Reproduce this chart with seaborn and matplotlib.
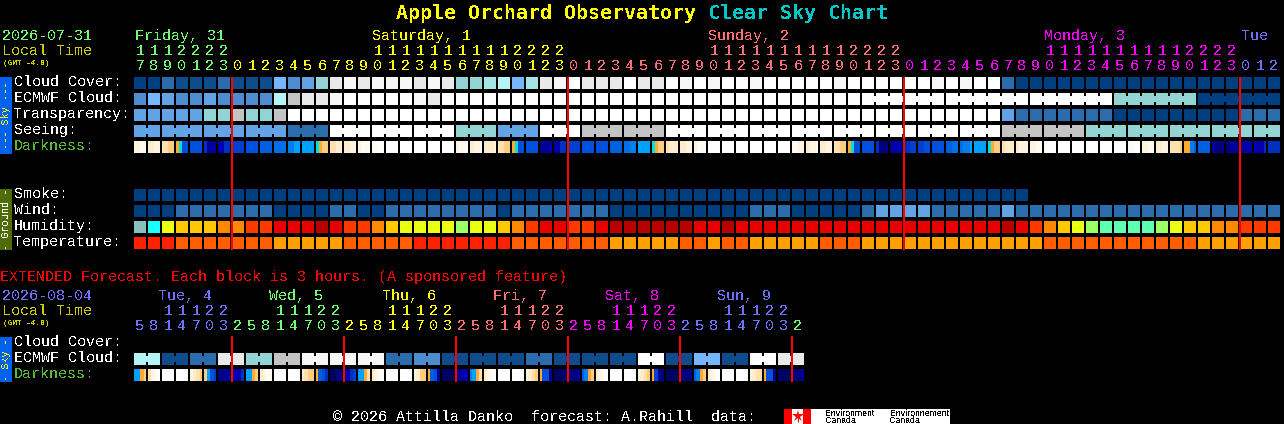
import numpy as np
import matplotlib
matplotlib.use("Agg")
import matplotlib.pyplot as plt
import seaborn as sns
from matplotlib.colors import ListedColormap
from matplotlib.patches import Rectangle

# --- data ---
hours = [17, 18, 19, 20, 21, 22, 23,
         0, 1, 2, 3, 4, 5, 6, 7, 8, 9, 10, 11, 12, 13, 14, 15, 16, 17, 18, 19, 20, 21, 22, 23,
         0, 1, 2, 3, 4, 5, 6, 7, 8, 9, 10, 11, 12, 13, 14, 15, 16, 17, 18, 19, 20, 21, 22, 23,
         0, 1, 2, 3, 4, 5, 6, 7, 8, 9, 10, 11, 12, 13, 14, 15, 16, 17, 18, 19, 20, 21, 22, 23,
         0, 1, 2]
ext_hours = [5, 8, 11, 14, 17, 20, 23,
             2, 5, 8, 11, 14, 17, 20, 23,
             2, 5, 8, 11, 14, 17, 20, 23,
             2, 5, 8, 11, 14, 17, 20, 23,
             2, 5, 8, 11, 14, 17, 20, 23,
             2, 5, 8, 11, 14, 17, 20, 23,
             2]

# day name, first column, colour
days = [("Friday, 31", 0, "#70ff70"), ("Saturday, 1", 7, "#ffff00"), ("Sunday, 2", 31, "#ff7070"),
        ("Monday, 3", 55, "#ff00ff"), ("Tue", 79, "#7070ff")]
ext_days = [("Tue, 4", 0, "#7070ff"), ("Wed, 5", 7, "#70ff70"), ("Thu, 6", 15, "#ffff00"),
            ("Fri, 7", 23, "#ff7070"), ("Sat, 8", 31, "#ff00ff"), ("Sun, 9", 39, "#7070ff")]
ext_last_colour = "#70ff70"

cloud_cover = ("AACBBBCBBB" "FDEGKLKLLL" "KLKGGHIFHK" "LMKKKMKK" + "MLMLMMLMMMMMLMMMMMMLMLMM" + "C" + "A" * 19)
ecmwf_cloud = ("DFEDDEDDDD" "IJKKLMMMMM" "LK" + "M" * 48 + "G" * 6 + "A" * 6)
transparency = ("EEEEEGGJGGJ" + "M" * 51 + "E" + "C" * 7 + "A" * 9 + "CCC")
seeing = ("E" * 11 + "CCC" + "M" * 9 + "GGG" + "EEE" + "MMM" + "J" * 6 + "M" * 24 + "J" * 6 + "G" * 14)
smoke = "A" * 64
wind = ("AAA" + "C" * 7 + "AAAA" + "CC" + "AA" + "C" * 8 + "A" + "C" * 7 + "A" * 10 + "CCC" + "A" * 5
        + "C" + "EEEE" + "C" * 5 + "E" + "C" * 19)
humidity = ("abcdddeeff" "ggghgffedc" "ccciccdefg" "gffg" "hhhhhh" "ggh" + "g" * 19
            + "hgfedcijjjjicddeefff")
temperature = ("RRR" + "O" * 7 + "Y" * 5 + "O" * 5 + "R" * 7 + "O" * 7 + "Y" * 5 + "OOYOO" + "Y" * 5 + "OOO"
               + "Y" * 13 + "O" * 11 + "Y" * 6)
ext_ecmwf = "IBCKGJLLLCDBBBCBBBMBFBMK"

# each cell holds 4 slices, level 0 = daylight, i = darkest
darkness = ["2211", "3322", "4455", "67cc", "cccc", "eggg", "ffee", "dddd", "cccc", "bbbb", "aaaa", "9988",
            "8888", "7655", "4433", "3322", "2111", "1100", "0000", "0000", "0000", "0000", "0000",
            "2110", "3221", "3332", "4455", "67cc", "cccc", "hggf", "ffee", "dddd", "cccc", "cccc",
            "bbbb", "aa99", "8888", "7655", "4333", "3322", "2111", "0000", "0000", "0000", "0000",
            "0000", "0000", "1122", "3221", "3322", "4455", "67cc",
            "cccc", "ehhh", "gfff", "eedd", "ddcc", "cccc", "bbaa", "a998", "8888", "7655", "4333",
            "3222", "2211", "1000", "0000", "0000", "0000", "0000", "0000", "1100", "2211", "3322",
            "4445", "669b", "bbbb", "ghhh", "hggg", "ggff", "fffe", "eeee"]
ext_darkness = ["8865", "4210", "0000", "0000", "2345", "58cd", "hhgg", "fffe",
                "8865", "3211", "0000", "0000", "3455", "6bce", "iihh", "gfed",
                "8864", "3210", "0000", "0000", "2355", "6bcg", "iiii", "hgff",
                "9864", "3210", "0000", "0000", "2345", "6ccg", "iiih", "hhhg",
                "b965", "3210", "0000", "0000", "2345", "6dgh", "iiii", "ihhh",
                "b965", "3210", "0000", "0000", "2344", "6cch", "iiii", "ihhg"]

cloud_colours = {"A": "#003f7f", "B": "#0f4c8c", "C": "#2b6cad", "D": "#4c8ccf", "E": "#62a3e6",
                 "F": "#76b6ff", "G": "#92d3d3", "H": "#a4e4e4", "I": "#b4f4f4", "J": "#c3c3c3",
                 "K": "#e9e9e9", "L": "#f7f7f7", "M": "#ffffff"}
humidity_colours = {"a": "#88bfbf", "b": "#18ffff", "c": "#ebff10", "d": "#ffc800", "e": "#ff8800",
                    "f": "#ff3800", "g": "#e80000", "h": "#b80000", "i": "#9cff64", "j": "#5effb0"}
temp_colours = {"R": "#ff2000", "O": "#ff5e00", "Y": "#ffa000"}
dark_colours = ["#ffffff", "#fffbf2", "#fff4e0", "#ffeccb", "#ffe0ae", "#ffcc80", "#ffaa33", "#00e0e0",
                "#00a0ff", "#0080f0", "#0070e8", "#0060e0", "#0050dd", "#0040d0", "#0030c0",
                "#0000b0", "#00009a", "#000080", "#000060"]

W, H = 1284, 424
X0, PITCH = 134, 14
MONO = "Liberation Mono"

sns.set_theme(style="dark", rc={"axes.facecolor": "black", "figure.facecolor": "black"})
plt.rcParams["font.family"] = [MONO, "DejaVu Sans Mono"]
plt.rcParams["text.antialiased"] = False

fig = plt.figure(figsize=(W / 100, H / 100), dpi=100, facecolor="black")


def px_axes(left, top, width, height):
    ax = fig.add_axes([left / W, 1 - (top + height) / H, width / W, height / H])
    ax.set_facecolor("black")
    return ax


def block_row(codes, top, palette, n_cols=82, bridges=()):
    # one row of 12px blocks, the black edges make the gaps between them
    keys = list(palette)
    values = np.full((1, n_cols), np.nan)
    values[0, :len(codes)] = [keys.index(c) for c in codes]
    ax = px_axes(X0 - 1, top - 1, n_cols * PITCH, PITCH)
    sns.heatmap(values, ax=ax, cmap=ListedColormap([palette[k] for k in keys]), vmin=-0.5,
                vmax=len(keys) - 0.5, cbar=False, linewidths=1.44, linecolor="black",
                xticklabels=False, yticklabels=False)
    # joined blocks share a narrow bridge across the gap
    for first, last in bridges:
        for i in range(first, last):
            ax.add_patch(Rectangle((i + 1 - 1 / PITCH, 4 / PITCH), 2 / PITCH, 6 / PITCH, lw=0,
                                   facecolor=palette[codes[i]], antialiased=False, zorder=5))
    ax.set_axis_off()


def dark_row(cells, top):
    values = np.array([[int(ch, 36) for cell in cells for ch in cell]], dtype=float)
    ax = px_axes(X0 - 1, top, len(cells) * PITCH, 12)
    sns.heatmap(values, ax=ax, cmap=ListedColormap(dark_colours), vmin=-0.5, vmax=len(dark_colours) - 0.5,
                cbar=False, xticklabels=False, yticklabels=False)
    ax.vlines(np.arange(len(cells) + 1) * 4, 0, 1, color="black", lw=1.44, antialiased=False)
    ax.set_axis_off()


# 3 hour seeing blocks start at column 2, the first two columns are left over
seeing_groups = [(0, 1)] + [(i, min(i + 2, 81)) for i in range(2, 82, 3)]
ecmwf_groups = [(i, i + 5) for i in range(52, 82, 6)]
ext_groups = [(i, i + 1) for i in range(0, 48, 2)]

block_row(cloud_cover, 77, cloud_colours)
block_row(ecmwf_cloud, 93, cloud_colours, bridges=ecmwf_groups)
block_row(transparency, 109, cloud_colours)
block_row(seeing, 125, cloud_colours, bridges=seeing_groups)
dark_row(darkness, 141)

block_row(smoke, 189, cloud_colours)
block_row(wind, 205, cloud_colours)
block_row(humidity, 221, humidity_colours)
block_row(temperature, 237, temp_colours)

block_row("".join(c * 2 for c in ext_ecmwf), 353, cloud_colours, n_cols=48, bridges=ext_groups)
dark_row(ext_darkness, 369)

# overlay in pixel coordinates for the text and the midnight lines
ov = fig.add_axes([0, 0, 1, 1])
ov.set_xlim(0, W)
ov.set_ylim(H, 0)
ov.set_axis_off()
ov.patch.set_alpha(0)


def label(x, y, s, color="white", size=10.8, **kw):
    # y is the baseline, so rows of text stay level whatever letters they hold
    ov.text(x, y, s, color=color, fontsize=size, va="baseline", ha=kw.pop("ha", "left"), **kw)


def hour_labels(values, day_list, tail_colour, y_tens, y_units):
    starts = [d[1] for d in day_list]
    for i, hour in enumerate(values):
        idx = np.searchsorted(starts, i, side="right") - 1
        colour = day_list[idx][2]
        if tail_colour and i == len(values) - 1:
            colour = tail_colour
        cx = X0 + PITCH * i + 6
        if hour >= 10:
            label(cx, y_tens, str(hour // 10), colour, ha="center")
        label(cx, y_units, str(hour % 10), colour, ha="center")


# title
label(396, 19, "Apple Orchard Observatory", "#ffff00", size=14.4, family="DejaVu Sans Mono", weight="bold")
label(708, 19, "Clear Sky Chart", "#00c8c8", size=14.4, family="DejaVu Sans Mono", weight="bold")

# top header
label(2, 40, "2026-07-31", "#70ff70")
label(2, 55, "Local Time", "#cccc00")
label(3, 65, "(GMT -4.0)", "#cccc00", size=5.6, weight="bold")
for (name, _, colour), x in zip(days, [135, 372, 708, 1044, 1241]):
    label(x, 40, name, colour)
hour_labels(hours, days, None, 55, 70)

for y, name, colour in [(86, "Cloud Cover:", "white"), (102, "ECMWF Cloud:", "white"),
                        (118, "Transparency:", "white"), (134, "Seeing:", "white"),
                        (150, "Darkness:", "#55bb33"), (198, "Smoke:", "white"), (214, "Wind:", "white"),
                        (230, "Humidity:", "white"), (246, "Temperature:", "white"),
                        (346, "Cloud Cover:", "white"), (362, "ECMWF Cloud:", "white"),
                        (378, "Darkness:", "#55bb33")]:
    label(14, y, name, colour)

# side bars
for top, bottom, face, text, colour in [(77, 154, "#0060f0", "--- Sky ---", "#ffff00"),
                                        (189, 250, "#4f6b0a", "- Ground -", "white"),
                                        (337, 382, "#0060f0", "- Sky -", "#ffff00")]:
    ov.add_patch(Rectangle((0, top), 12, bottom - top, facecolor=face, lw=0, antialiased=False))
    ov.text(6, (top + bottom) / 2, text, color=colour, fontsize=7.4, rotation=90, ha="center", va="center")

# extended header
label(0, 281, "EXTENDED Forecast. Each block is 3 hours. (A sponsored feature)", "#ff0000")
label(2, 300, "2026-08-04", "#7070ff")
label(2, 315, "Local Time", "#cccc00")
label(3, 325, "(GMT -4.0)", "#cccc00", size=5.6, weight="bold")
for (name, _, colour), x in zip(ext_days, [158, 269, 382, 493, 605, 717]):
    label(x, 300, name, colour)
hour_labels(ext_hours, ext_days, ext_last_colour, 315, 330)

# midnight lines
main_midnights = [i for i, h in enumerate(hours) if h == 0]
ext_midnights = [i for i, h in enumerate(ext_hours) if h == 2]
ov.vlines([X0 + PITCH * i for i in main_midnights], 77, 250, color="#ff0000", lw=1.44, antialiased=False)
ov.vlines([X0 + PITCH * i for i in ext_midnights], 336, 382, color="#ff0000", lw=1.44, antialiased=False)

# footer
label(333, 421, "\u00a9 2026 Attilla Danko  forecast: A.Rahill  data:")
ov.add_patch(Rectangle((784, 409), 166, 15, facecolor="white", lw=0, antialiased=False))
ov.add_patch(Rectangle((784, 409), 8, 15, facecolor="#ff0000", lw=0, antialiased=False))
ov.add_patch(Rectangle((803, 409), 8, 15, facecolor="#ff0000", lw=0, antialiased=False))
ov.plot([797.5], [416], marker="*", color="#ff0000", ms=9, mew=0)
ov.vlines(797.5, 417, 422, color="#ff0000", lw=0.8)
for x, top_word, bottom_word in [(825, "Environment", "Canada"), (890, "Environnement", "Canada")]:
    ov.text(x, 416, top_word, color="black", fontsize=6.3, family="Liberation Sans", va="baseline")
    ov.text(x, 423, bottom_word, color="black", fontsize=6.3, family="Liberation Sans", va="baseline")

fig.savefig("out.png", dpi=100, facecolor="black")
